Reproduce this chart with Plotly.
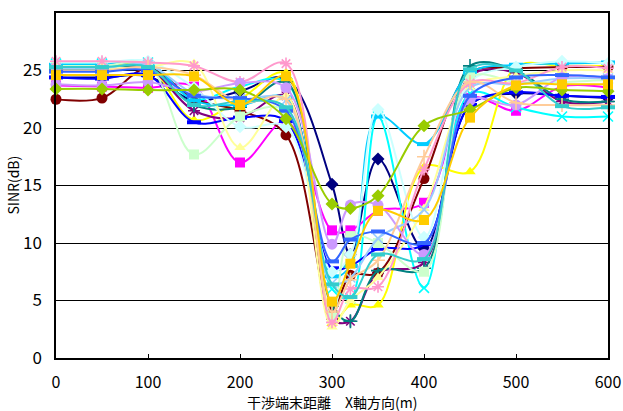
import plotly.graph_objects as go

x_pos = [0, 50, 100, 150, 200, 250, 300, 320, 350, 400, 450, 500, 550, 600]

s01_navy = [24.4, 24.4, 24.5, 22.4, 23.2, 24.3, 15.1, 9.0, 17.3, 9.5, 22.0, 23.0, 22.8, 22.6]
s02_magenta = [23.7, 23.6, 23.5, 23.6, 17.0, 20.6, 11.1, 11.1, 12.8, 13.5, 22.6, 21.5, 23.6, 23.5]
s03_yellow = [25.3, 25.3, 25.4, 20.7, 22.5, 24.8, 3.0, 4.6, 4.6, 16.6, 16.2, 25.3, 25.4, 25.4]
s04_cyan = [25.6, 25.6, 25.7, 22.5, 23.6, 24.0, 6.0, 5.2, 21.0, 6.1, 23.0, 21.8, 21.0, 21.0]
s05_purple = [25.0, 25.0, 25.2, 21.5, 20.9, 22.8, 3.4, 3.2, 7.4, 8.3, 24.5, 24.8, 22.3, 22.3]
s06_maroon = [22.5, 22.6, 25.2, 22.5, 21.5, 19.4, 4.0, 7.2, 7.4, 15.6, 24.8, 25.2, 25.3, 25.3]
s07_teal = [25.1, 25.1, 25.3, 22.0, 21.8, 24.0, 4.5, 3.2, 7.6, 7.8, 25.4, 25.0, 22.5, 22.3]
s08_blue = [24.4, 24.3, 24.6, 20.5, 20.9, 20.6, 7.8, 8.0, 9.5, 9.9, 22.0, 23.1, 22.8, 22.7]
s09_skyblue = [25.5, 25.5, 25.6, 22.4, 22.0, 22.6, 7.1, 8.0, 21.0, 18.6, 24.8, 25.5, 25.6, 25.7]
s10_turquoise = [25.7, 25.7, 25.8, 23.5, 20.1, 20.1, 7.5, 9.0, 21.6, 10.5, 24.0, 25.3, 25.8, 25.6]
s11_lightgreen = [25.4, 25.4, 25.5, 17.7, 21.0, 21.5, 3.5, 10.6, 10.0, 7.5, 24.4, 24.0, 24.0, 24.2]
s12_lightyellow = [25.2, 25.2, 25.3, 25.6, 18.3, 22.8, 2.7, 5.0, 7.0, 13.0, 23.5, 24.5, 25.0, 25.0]
s13_paleblue = [25.2, 25.2, 25.5, 23.0, 22.5, 22.4, 6.5, 7.0, 10.4, 12.9, 23.5, 23.8, 24.3, 24.3]
s14_rose = [25.8, 25.8, 25.7, 25.4, 24.0, 25.6, 3.1, 6.0, 6.2, 16.4, 23.9, 23.9, 25.3, 25.2]
s15_lavender = [23.8, 23.7, 24.0, 23.2, 23.9, 23.5, 9.9, 13.3, 13.3, 9.0, 22.4, 22.0, 24.4, 24.3]
s16_tan = [25.0, 25.0, 25.3, 24.6, 22.2, 22.5, 4.0, 6.8, 8.5, 17.5, 24.0, 22.2, 22.0, 22.0]
s17_blue2 = [24.9, 24.9, 25.0, 22.8, 22.6, 21.5, 8.4, 10.3, 11.0, 10.0, 22.8, 24.4, 24.6, 24.4]
s18_aqua = [25.3, 25.3, 25.3, 22.0, 22.3, 21.8, 6.4, 5.3, 9.0, 8.6, 25.1, 25.0, 21.9, 21.8]
s19_lime = [23.4, 23.4, 23.3, 23.3, 23.3, 20.8, 13.4, 13.0, 14.1, 20.2, 21.6, 23.5, 23.3, 23.2]
s20_gold = [24.6, 24.6, 24.6, 24.5, 22.0, 24.5, 4.9, 8.2, 12.8, 12.0, 20.9, 23.7, 23.8, 23.8]

series = [
    (s01_navy, "#000080", "diamond"),
    (s02_magenta, "#FF00FF", "square"),
    (s03_yellow, "#FFFF00", "triangle-up"),
    (s04_cyan, "#00FFFF", "x-thin-open"),
    (s05_purple, "#800080", "asterisk-open"),
    (s06_maroon, "#800000", "circle"),
    (s07_teal, "#008080", "cross-thin-open"),
    (s08_blue, "#0000FF", "line-ew-open"),
    (s09_skyblue, "#00CCFF", "line-ew-open"),
    (s10_turquoise, "#CCFFFF", "diamond"),
    (s11_lightgreen, "#CCFFCC", "square"),
    (s12_lightyellow, "#FFFF99", "triangle-up"),
    (s13_paleblue, "#99CCFF", "x-thin-open"),
    (s14_rose, "#FF99CC", "asterisk-open"),
    (s15_lavender, "#CC99FF", "circle"),
    (s16_tan, "#FFCC99", "cross-thin-open"),
    (s17_blue2, "#3366FF", "line-ew-open"),
    (s18_aqua, "#33CCCC", "line-ew-open"),
    (s19_lime, "#99CC00", "diamond"),
    (s20_gold, "#FFCC00", "square"),
]

font_family = "Noto Sans CJK JP"
fig = go.Figure()
for vals, color, sym in series:
    if sym.startswith("line-ew"):
        marker = dict(symbol=sym, size=10, color=color, line=dict(color=color, width=4))
    elif sym.endswith("-open"):
        marker = dict(symbol=sym, size=10, color=color, line=dict(color=color, width=1.6))
    else:
        marker = dict(symbol=sym, size=10 if sym != "circle" else 11, color=color,
                      line=dict(width=0))
    fig.add_trace(go.Scatter(
        x=x_pos, y=vals, mode="lines+markers",
        line=dict(color=color, width=2, shape="spline", smoothing=1),
        marker=marker, cliponaxis=False, showlegend=False,
    ))

fig.update_layout(
    width=623, height=411,
    margin=dict(l=56, r=15, t=13, b=53),
    paper_bgcolor="white", plot_bgcolor="white",
    font=dict(family=font_family, color="black", size=16),
    xaxis=dict(range=[0, 600], dtick=100, showgrid=False, zeroline=False,
               showline=True, linecolor="black", linewidth=1.5, mirror=True,
               ticks="inside", ticklen=4, tickcolor="black", automargin=False,
               tickfont=dict(size=16), ticklabelstandoff=9),
    yaxis=dict(range=[0, 30], dtick=5, showgrid=True, gridcolor="black", gridwidth=1,
               zeroline=False, showline=True, linecolor="black", linewidth=1.5,
               mirror=True, ticks="", automargin=False,
               tickfont=dict(size=17), ticklabelstandoff=9),
    annotations=[
        dict(text="干渉端末距離　X軸方向(m)", xref="paper", yref="paper", x=0.5, y=0,
             yshift=-44, xanchor="center", yanchor="middle", showarrow=False,
             font=dict(size=14)),
        dict(text="SINR(dB)", xref="paper", yref="paper", x=0, y=0.5, xshift=-44,
             xanchor="center", yanchor="middle", textangle=-90, showarrow=False,
             font=dict(size=14)),
    ],
)

fig.write_html("out.html")
